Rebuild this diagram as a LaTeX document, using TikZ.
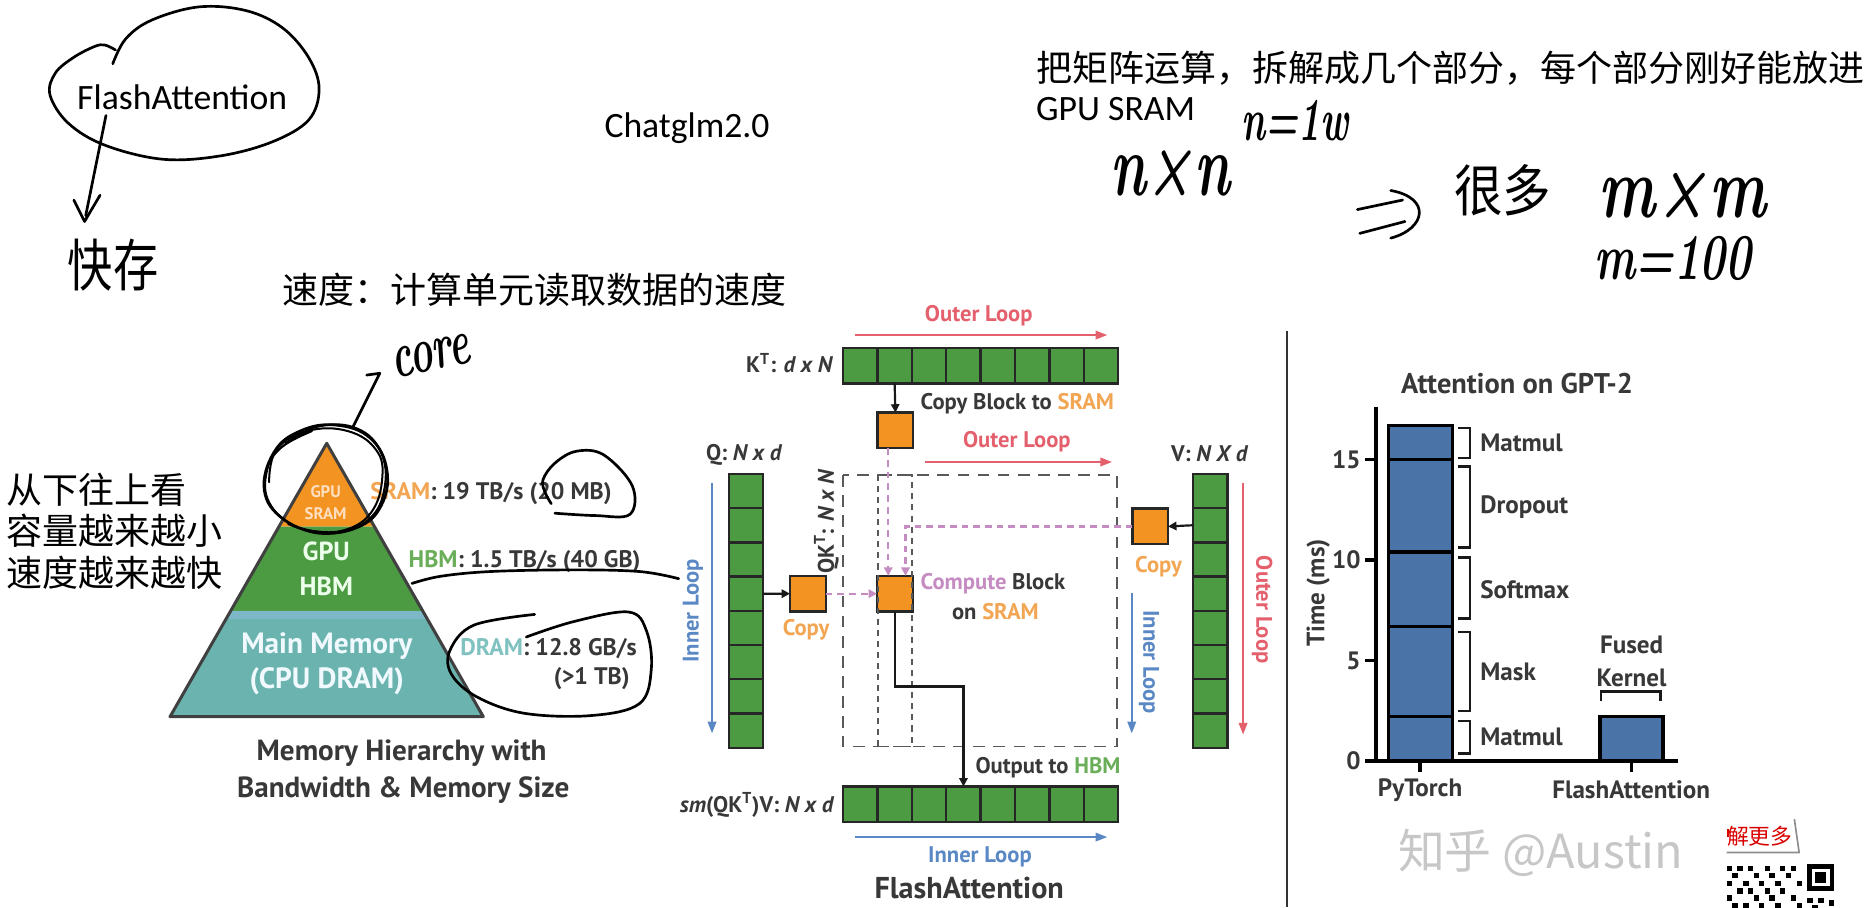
\documentclass[tikz,border=0pt]{standalone}
\usepackage{fontspec}
\setmainfont{Carlito}
\newfontfamily\figfont{PT Sans}
\newfontfamily\cjk{Noto Sans CJK SC}
\newfontfamily\hand{Latin Modern Roman}
\usetikzlibrary{arrows.meta,calc}
\newcommand{\fsz}[1]{\fontsize{#1pt}{#1pt}\selectfont}
\definecolor{txt}{HTML}{383838}
\definecolor{gcell}{HTML}{4C9A42}
\definecolor{org}{HTML}{F39322}
\definecolor{tealm}{HTML}{6BB3AF}
\definecolor{band}{HTML}{7DB8C8}
\definecolor{redl}{HTML}{E4606D}
\definecolor{bluel}{HTML}{5A88C4}
\definecolor{pinkl}{HTML}{C58CC2}
\definecolor{barb}{HTML}{4A74A8}
\definecolor{sramt}{HTML}{F2A552}
\definecolor{hbmt}{HTML}{6AAE5A}
\definecolor{dramt}{HTML}{80C2C0}
\tikzset{
 slide/.style={font=\fsz{21.3}, inner sep=0},
 cjkt/.style={font=\cjk\fsz{21.5}, inner sep=0},
 fl/.style={font=\figfont\bfseries\fsz{13.5}, text=txt, inner sep=0},
 pyl/.style={font=\figfont\bfseries\fsz{14.3}, text=txt, inner sep=0},
 cht/.style={font=\figfont\bfseries\fsz{15}, text=txt, inner sep=0},
 cell/.style={draw=black!85, fill=gcell, line width=1.4pt, minimum width=0.7225cm, minimum height=0.75cm, inner sep=0, outer sep=0},
 qcell/.style={cell, minimum width=0.725cm, minimum height=0.71875cm},
 osq/.style={draw=black!85, fill=org, line width=1.4pt, minimum size=0.75cm, inner sep=0, outer sep=0},
 blk/.style={-{Triangle[length=5pt,width=5pt]}, line width=1.3pt, black!90},
 pk/.style={-{Triangle[length=5pt,width=5pt]}, pinkl, line width=1.4pt, dash pattern=on 4pt off 3pt},
 redar/.style={-{Triangle[length=7pt,width=5pt]}, redl, line width=1.3pt},
 bluear/.style={-{Triangle[length=7pt,width=5pt]}, bluel, line width=1.3pt},
 dbox/.style={draw=black!65, line width=1.1pt, dash pattern=on 7pt off 5pt},
 dcol/.style={draw=black!65, line width=1pt, dash pattern=on 3.6pt off 3pt},
 hw/.style={line width=1.6pt, line cap=round, line join=round, black},
 hwt/.style={font=\hand\bfseries\itshape, inner sep=0},
 bar/.style={draw=black, fill=barb, line width=2pt},
 brk/.style={line width=1.5pt, black!90},
}
\begin{document}
\begin{tikzpicture}[x=0.025cm,y=-0.025cm]
\useasboundingbox (0,0) rectangle (1568,762);

% ---------- top-left slide notes ----------
\node[slide] (fa) at (153,82) {FlashAttention};
\draw[hw] plot[smooth, tension=0.6] coordinates {(94.7,53.6) (105.6,32.6) (127.6,16.8) (167,5.8) (206.6,8.9) (237.3,23.4) (259.2,48.3) (268,74.6) (259.2,100.8) (228.5,119.2) (184.6,131) (136.3,133.7) (88,121.9) (57.4,103.5) (42,79.8) (46.4,61.5) (61.7,48.3) (79.3,39.1) (88,37.8) (97,42)};
\coordinate (atip) at (71,186);
\draw[hw] (89,97) -- (72,181);
\draw[hw] (62,168) -- (atip) -- (84,164);
\node[font=\cjk\fsz{27}, inner sep=0] (kc1) at (95,223) {\scalebox{1}[1.25]{快存}};

\node[slide] (chat) at (577,108) {Chatglm2.0};
\node[cjkt, anchor=west] (sd) at (237,243) {速度：计算单元读取数据的速度};

\node[cjkt, anchor=west] (tr1) at (870,57) {把矩阵运算，拆解成几个部分，每个部分刚好能放进};
\node[slide, anchor=west] (tr2) at (870,92) {GPU SRAM};
\node[hwt] (n1w) at (1088,101) {\fsz{26}\scalebox{0.85}[1.4]{n=1w}};
\node[hwt] (nxn) at (983,146) {\fsz{33}\scalebox{1}[1.6]{n×n}};
\draw[hw] (1140,176) -- (1178,168);
\draw[hw] (1142,196) -- (1180,186);
\draw[hw] (1168,160) .. controls (1202,166) and (1198,192) .. (1168,200);
\node[font=\cjk\fsz{29}, inner sep=0] (hd) at (1262,160) {\scalebox{1}[1.15]{很多}};
\node[hwt] (mxm) at (1413,164) {\fsz{36}\scalebox{1}[1.45]{m×m}};
\node[hwt] (m100) at (1405,217) {\fsz{26}\scalebox{1}[1.5]{m=100}};

% ---------- left notes ----------
\node[cjkt, anchor=west] (l1) at (5,411) {从下往上看};
\node[cjkt, anchor=west] (l2) at (5,446) {容量越来越小};
\node[cjkt, anchor=west] (l3) at (5,481) {速度越来越快};

% ---------- pyramid ----------
\fill[org] (274.4,372.3) -- (314.5,442.3) -- (234.3,442.3) -- cycle;
\fill[gcell] (234.3,442.3) -- (314.5,442.3) -- (355,513) -- (193.8,513) -- cycle;
\fill[band] (193.8,513) -- (355,513) -- (359,520) -- (189.8,520) -- cycle;
\fill[tealm] (189.8,520) -- (359,520) -- (405.9,601.9) -- (142.8,601.9) -- cycle;
\draw[line width=1.8pt, black!75, line join=round] (274.4,372.3) -- (405.9,601.9) -- (142.8,601.9) -- cycle;
\node[font=\figfont\bfseries\fsz{10}, text=orange!25!white, inner sep=0] (g1) at (273.5,413) {GPU};
\node[font=\figfont\bfseries\fsz{10}, text=orange!25!white, inner sep=0] (s1) at (273.5,431) {SRAM};
\node[font=\figfont\bfseries\fsz{15.6}, text=green!8!white, inner sep=0] (g2) at (274,463.3) {GPU};
\node[font=\figfont\bfseries\fsz{15.6}, text=green!8!white, inner sep=0] (h2) at (274,492.7) {HBM};
\node[font=\figfont\bfseries\fsz{17.5}, text=cyan!6!white, inner sep=0] (mm) at (274.5,542.5) {Main Memory};
\node[font=\figfont\bfseries\fsz{17.5}, text=cyan!6!white, inner sep=0] (cd) at (274.5,572.5) {(CPU DRAM)};
\node[pyl, anchor=west] (sr) at (310.7,414.9) {\textcolor{sramt}{SRAM}: 19 TB/s (20 MB)};
\node[pyl, anchor=west] (hb) at (343,471.7) {\textcolor{hbmt}{HBM}: 1.5 TB/s (40 GB)};
\node[pyl, anchor=west] (dr) at (386.3,544.5) {\textcolor{dramt}{DRAM}: 12.8 GB/s};
\node[pyl] (dr2) at (497,569.7) {(>1 TB)};
\node[fl, font=\figfont\bfseries\fsz{17.4}] (cap1) at (337.3,632.7) {Memory Hierarchy with};
\node[fl, font=\figfont\bfseries\fsz{17.4}] (cap2) at (338.7,663.5) {Bandwidth \& Memory Size};

% handwriting on pyramid
\draw[hw] plot[smooth cycle, tension=0.7] coordinates {(230,380) (252,362) (282,357) (311,368) (325,395) (320,425) (300,443) (268,447) (238,436) (222,412)};
\draw[hw, line width=1.3pt] plot[smooth, tension=0.7] coordinates {(240,372) (268,358) (300,360) (320,380) (323,410) (310,436) (280,448) (248,442) (226,422) (224,396) (236,376) (262,362)};
\draw[hw, line width=1.2pt] plot[smooth, tension=0.7] coordinates {(226,405) (232,378) (258,362) (292,362) (316,378) (321,402) (312,430) (290,445) (262,446) (242,440)};
\draw[hw] (296.6,358.3) -- (319,313.5) -- (308,315);
\node[hwt, rotate=12] (core) at (362,299) {\fsz{23}\scalebox{1}[1.7]{core}};
\draw[hw] plot[smooth, tension=0.6] coordinates {(466,431) (500,433) (529,432) (531,408) (507,382) (484,379) (466,389) (456,403) (458,414) (463,423)};
\draw[hw] plot[smooth, tension=0.6] coordinates {(346,490) (370,484) (412,480) (480,478.6) (537,480) (570,486)};
\draw[hw] plot[smooth, tension=0.6] coordinates {(449,516) (398,525) (378,546) (379,566) (400,585) (440,599) (496,601) (537,591) (547,562) (543,530) (528,514) (482,522) (442,535)};

% ---------- FlashAttention figure ----------
\foreach \i in {1,...,8} {
  \node[cell] (k\i) at ({708+28.9*(\i-0.5)},307) {};
  \node[cell] (o\i) at ({708+28.9*(\i-0.5)},675.5) {};
  \node[qcell] (q\i) at (626.5,{398+28.75*(\i-0.5)}) {};
  \node[qcell] (v\i) at (1016.5,{398+28.75*(\i-0.5)}) {};
}
\node[osq] (kc) at (752,361.5) {};
\node[osq] (qc) at (678.5,498.6) {};
\node[osq] (cb) at (751.5,498.6) {};
\node[osq] (vc) at (966,442.1) {};

\draw[dbox] (708,399) rectangle (938,627);
\draw[dcol] (737.5,399) rectangle (766,627);

\coordinate (or1a) at (718,281.4); \coordinate (or1b) at (930,281.4);
\draw[redar] (or1a) -- (or1b);
\node[fl, text=redl] (ol1) at (822,265) {Outer Loop};
\node[fl, anchor=east] (kl) at (700,305) {K\textsuperscript{T}: \textit{d x N}};
\draw[blk] (k2.south) -- (kc.north);
\node[fl, anchor=west] (cbs) at (773,339) {Copy Block to \textcolor{sramt}{SRAM}};
\node[fl, text=redl] (ol2) at (854,371) {Outer Loop};
\coordinate (or2a) at (777,388); \coordinate (or2b) at (934,388);
\draw[redar] (or2a) -- (or2b);

\node[fl] (ql) at (625,382) {Q: \textit{N x d}};
\node[fl, rotate=90] (qkl) at (694,438) {QK\textsuperscript{T}: \textit{N x N}};
\coordinate (il1a) at (598,406); \coordinate (il1b) at (598,616);
\draw[bluear] (il1a) -- (il1b);
\node[fl, rotate=90, text=bluel] (il1) at (582,513) {Inner Loop};
\draw[blk] (q4.east) -- (qc.west);
\node[fl, text=sramt] (cp1) at (677,529) {Copy};
\draw[pk] (qc.east) -- (cb.west);

\path ($(kc.south)+(-6,0)$) coordinate (p1a);
\draw[pk] (p1a) -- (p1a |- cb.north);
\path ($(cb.north)+(9,0)$) coordinate (p2b);
\draw[pk] (vc.west) -- (vc.west -| p2b) -- (p2b);

\node[fl, anchor=west] (cbl) at (773,490) {\textcolor{pinkl}{Compute} Block};
\node[fl] (osr) at (836,514) {on \textcolor{sramt}{SRAM}};

\draw[blk, line width=1.5pt] (cb.south) |- ($(o4.north)+(0,-84)$) -- (o4.north);
\node[fl, anchor=west] (oth) at (819,645) {Output to \textcolor{hbmt}{HBM}};
\node[fl, anchor=east] (sml) at (701,676) {\textit{sm}(QK\textsuperscript{T})V: \textit{N x d}};
\coordinate (il2a) at (718,703); \coordinate (il2b) at (930,703);
\draw[bluear] (il2a) -- (il2b);
\node[fl, text=bluel] (il2) at (823,720) {Inner Loop};
\node[fl, font=\figfont\bfseries\fsz{18}] (fac) at (814,746) {FlashAttention};

\node[fl] (vl) at (1016,381) {V: \textit{N X d}};
\draw[blk] (v2.west) -- (vc.east);
\node[fl, text=sramt] (cp2) at (973,476) {Copy};
\coordinate (il3a) at (950.5,498); \coordinate (il3b) at (950.5,616);
\draw[bluear] (il3a) -- (il3b);
\node[fl, rotate=-90, text=bluel] (il3) at (965,556) {Inner Loop};
\coordinate (ol3a) at (1044,406); \coordinate (ol3b) at (1044,617);
\draw[redar] (ol3a) -- (ol3b);
\node[fl, rotate=-90, text=redl] (ol3) at (1060,512) {Outer Loop};

% divider
\draw[line width=1.6pt, black!80] (1081,278) -- (1081,762);

% ---------- chart ----------
\node[fl, font=\figfont\bfseries\fsz{17}] (ct) at (1274,322) {Attention on GPT-2};
\draw[bar] (1166,639) rectangle (1220,357.4);
\foreach \yy in {386.1,463.7,526.3,601.9} \draw[line width=2pt] (1166,\yy) -- (1220,\yy);
\draw[bar] (1343.7,639) rectangle (1396.8,601.6);
\draw[line width=2pt] (1155.6,341.5) -- (1155.6,639);
\draw[line width=2pt] (1146.4,639) -- (1409,639);
\foreach \yy/\lab in {639/0,554.7/5,470.4/10,386.1/15} {
  \draw[line width=2pt] (1146.4,\yy) -- (1155.6,\yy);
  \node[cht, anchor=east] at (1143,\yy) {\lab};
}
\draw[line width=2pt] (1192.6,639) -- (1192.6,648);
\draw[line width=2pt] (1370,639) -- (1370,648);
\node[cht, rotate=90] (tms) at (1107,498) {Time (ms)};
\foreach \ta/\tb in {359.6/384.8, 391.7/459.9, 468.3/519.5, 530.7/597.1, 605.7/632.8}
  \draw[brk] (1224.6,\ta) -- (1234.5,\ta) -- (1234.5,\tb) -- (1224.6,\tb);
\node[cht, anchor=west] (mm1) at (1243,372) {Matmul};
\node[cht, anchor=west] (dro) at (1243,425.5) {Dropout};
\node[cht, anchor=west] (sft) at (1243,495.5) {Softmax};
\node[cht, anchor=west] (msk) at (1243,564) {Mask};
\node[cht, anchor=west] (mm2) at (1243,618.7) {Matmul};
\draw[brk] (1344.6,588.6) -- (1344.6,580.8) -- (1394.4,580.8) -- (1394.4,588.6);
\node[cht] (fus) at (1370.3,541.7) {Fused};
\node[cht] (ker) at (1370.3,569.5) {Kernel};
\node[cht] (pyt) at (1192.6,663.5) {PyTorch};
\node[cht] (fat) at (1370,663.5) {FlashAttention};

% ---------- watermark & qr ----------
\node[font=\cjk\fsz{28}, text=black!22, inner sep=0] (wm) at (1294,716) {知乎 @Austin};
\node[font=\cjk\fsz{13}, text=red!85!black, inner sep=0] (ljm) at (1478,702) {解更多};
\fill[red!85!black] (1450,696) rectangle (1452.5,703);
\draw[black!45, line width=1pt] (1450,716) -- (1511,716) -- (1507,688);
\fill[black] (1518,726) rectangle (1540,748);
\fill[white] (1521.5,729.5) rectangle (1536.5,744.5);
\fill[black] (1524.5,732.5) rectangle (1533.5,741.5);
\foreach \qx/\qy in {1450/727,1459/727,1468/727,1482/727,1495/727,1504/727,1455/733,1473/733,1486/733,1500/733,1450/740,1464/740,1477/740,1491/740,1509/740,1459/746,1468/746,1482/746,1495/746,1450/752,1473/752,1486/752,1504/752,1455/758,1464/758,1477/758,1491/758,1509/758,1518/754,1527/754,1536/756,1522/760}
  \fill[black] (\qx,\qy) rectangle ++(4.5,4.5);
\end{tikzpicture}
\end{document}
